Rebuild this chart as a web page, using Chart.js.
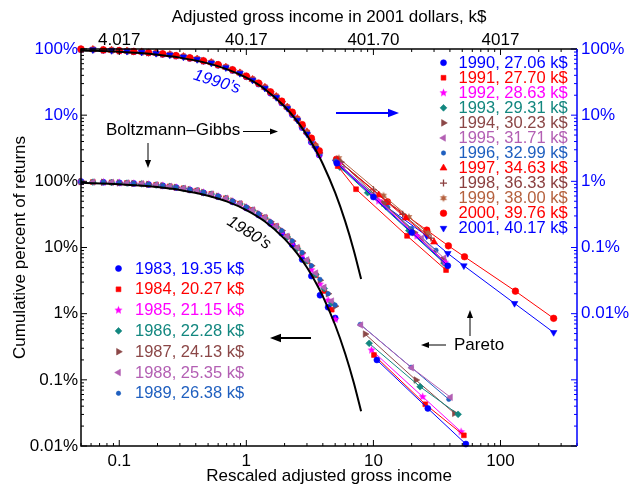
<!DOCTYPE html>
<html>
<head>
<meta charset="utf-8">
<script src="https://cdn.jsdelivr.net/npm/chart.js@4.4.1/dist/chart.umd.min.js"></script>
<style>
html, body { margin: 0; padding: 0; background: #fff; }
</style>
</head>
<body>
<canvas id="chart" width="638" height="485"></canvas>
<script>
// axis ticks
var xTicks = [0.1, 1, 10, 100];
var xTickLabels = ['0.1', '1', '10', '100'];
var topTickLabels = ['4.017', '40.17', '401.70', '4017'];
var leftTicks = [0.01, 0.1, 1, 10, 100, 1000, 10000];
var leftTickLabels = ['0.01%', '0.1%', '1%', '10%', '100%', '10%', '100%'];
var rightTicks = [0.01, 0.1, 1, 10, 100];
var rightTickLabels = ['0.01%', '0.1%', '1%', '10%', '100%'];

// years and average income
var years80 = ['1983', '1984', '1985', '1986', '1987', '1988', '1989'];
var income80 = ['19.35', '20.27', '21.15', '22.28', '24.13', '25.35', '26.38'];
var years90 = ['1990', '1991', '1992', '1993', '1994', '1995', '1996', '1997', '1998', '1999', '2000', '2001'];
var income90 = ['27.06', '27.70', '28.63', '29.31', '30.23', '31.71', '32.99', '34.63', '36.33', '38.00', '39.76', '40.17'];

// 1980's, low income part (left axis, %); two x grids, even years on A, odd on B
var bodyXA80 = [0.05, 0.075, 0.1, 0.13, 0.17, 0.22, 0.28, 0.36, 0.46, 0.6, 0.78, 1.0, 1.25, 1.55, 1.9, 2.3, 2.75, 3.25, 3.8, 4.4, 5.0];
var bodyXB80 = [0.062, 0.087, 0.115, 0.15, 0.195, 0.25, 0.32, 0.41, 0.53, 0.69, 0.89, 1.12, 1.4, 1.72, 2.1, 2.52, 3.0, 3.52, 4.1, 4.7];
var body80 = [
  [99, 97, 95, 93, 89.5, 85.5, 80.5, 74, 67, 58.5, 49, 39.5, 31, 23, 16.5, 11, 6.6, 3.7, 1.9, 1.25, 0.86],
  [97.5, 96.5, 94.5, 92, 88.5, 84, 78.5, 72.5, 64.5, 55.5, 46, 37, 28.5, 21, 14.6, 9.8, 6.2, 3.8, 2.2, 1.15],
  [99, 97, 95, 93, 90, 86, 81, 75, 68, 59.5, 50, 40.5, 32, 24, 17.5, 12, 7.8, 4.6, 2.8, 1.6, 0.82],
  [97.5, 96, 94, 91.5, 88, 83.5, 78, 72, 64, 55, 45.5, 36.5, 28, 20.5, 14.4, 9.7, 6.3, 3.9, 2.4, 1.45],
  [99, 97, 95, 93, 90, 86, 81, 75, 68, 59.5, 50.5, 41, 32.5, 24.5, 18, 12.5, 8.3, 5.3, 3.2, 2.0, 1.3],
  [97.5, 96.5, 94.5, 92, 88.5, 84, 78.5, 72.5, 64.5, 55.5, 46, 37, 28.5, 21, 14.8, 10, 6.5, 4.1, 2.5, 1.55],
  [99, 97, 95, 93, 90, 86, 81, 75.5, 68.5, 60, 50.5, 41, 32.5, 24.5, 18, 12.6, 8.4, 5.3, 3.3, 2.0, 1.35]
];
// 1980's, Pareto tail [x, %]
var tail80 = [
  [[10.65, 0.2], [26.8, 0.037], [53.4, 0.0107]],
  [[10.1, 0.237], [25.6, 0.0427], [51.5, 0.0145]],
  [[9.67, 0.282], [24.4, 0.0556], [49, 0.0164]],
  [[9.26, 0.356], [23.3, 0.0787], [46.4, 0.0301]],
  [[8.61, 0.492], [21.6, 0.0993], [43.4, 0.0312]],
  [[7.96, 0.673], [20.0, 0.152], [40.4, 0.0545]],
  [[7.87, 0.689], [19.8, 0.155], [39.2, 0.0507]]
];

// 1990's, low income part (right axis, %); even years on A, odd on B
var bodyXA90 = [0.05, 0.075, 0.1, 0.13, 0.17, 0.22, 0.28, 0.36, 0.46, 0.6, 0.78, 1.0, 1.25, 1.55, 1.9, 2.3, 2.75, 3.25, 3.75];
var bodyXB90 = [0.062, 0.087, 0.115, 0.15, 0.195, 0.25, 0.32, 0.41, 0.53, 0.69, 0.89, 1.12, 1.4, 1.72, 2.1, 2.52, 3.0, 3.5];
var body90 = [
  [99, 96, 94, 91, 87.5, 83.5, 78.5, 72.5, 65.5, 57, 47.5, 38, 29.5, 21.5, 15.3, 10.2, 6.5, 3.9, 2.5],
  [98.5, 96, 93.5, 90.5, 87, 82.5, 77, 70.5, 62.5, 53.3, 43.7, 34.8, 26.4, 19.2, 13.2, 8.8, 5.5, 3.4],
  [99, 96.5, 94, 91.5, 88, 84, 79, 73, 66, 57.5, 48, 38.5, 30, 22, 15.6, 10.4, 6.6, 4.0, 2.55],
  [98, 95.5, 93, 90, 86.5, 82, 76.5, 70, 62, 52.8, 43.2, 34.3, 26, 18.9, 13, 8.6, 5.4, 3.35],
  [99, 96.5, 94, 91.5, 88, 84, 79, 73, 66.5, 58, 48.5, 39, 30.5, 22.5, 16, 10.8, 7.0, 4.3, 2.7],
  [98, 95.5, 93, 90, 86.5, 82, 76.5, 70, 62, 52.6, 43, 34.2, 25.9, 18.8, 12.9, 8.5, 5.3, 3.3],
  [99, 96, 93.5, 91, 87.5, 83.5, 78.5, 72.5, 65.5, 57, 47.5, 38, 29.5, 21.8, 15.5, 10.4, 6.6, 4.0, 2.6],
  [98.5, 96, 93.5, 90.5, 87, 82.5, 77, 70.5, 62.5, 53.2, 43.6, 34.7, 26.4, 19.2, 13.3, 8.9, 5.6, 3.5],
  [99, 96.5, 94, 91.5, 88, 84, 79, 73, 66, 57.5, 48, 38.5, 30, 22.2, 15.9, 10.7, 6.9, 4.3, 2.7],
  [98, 95.5, 93, 90, 86.5, 82, 76.5, 70, 62, 52.8, 43.3, 34.4, 26.1, 19, 13.1, 8.7, 5.5, 3.45],
  [100, 97, 94.5, 92, 88.5, 84.5, 79.5, 73.5, 66.5, 58, 48.5, 39, 30.5, 22.5, 16.3, 11.1, 7.2, 4.5, 2.9],
  [97.5, 95, 92.5, 89.5, 86, 81.5, 76, 69.5, 61.5, 52.3, 42.8, 33.9, 25.6, 18.5, 12.7, 8.4, 5.2, 3.15]
];
// 1990's, Pareto tail [x, %]
var tail90 = [
  [[5.15, 1.88], [10, 0.58], [20, 0.169], [38.5, 0.053]],
  [[5.24, 1.70], [7.3, 0.76], [18.4, 0.15], [37.3, 0.0456]],
  [[5.34, 1.82], [11, 0.506], [22, 0.149], [36.6, 0.060]],
  [[5.44, 1.64], [9, 0.673], [19, 0.18], [36.0, 0.058]],
  [[5.54, 1.95], [12, 0.47], [21, 0.168], [35.3, 0.0645]],
  [[5.74, 1.58], [10, 0.614], [24, 0.138], [36.0, 0.069]],
  [[5.05, 2.02], [13, 0.404], [20, 0.194], [31.1, 0.091]],
  [[5.24, 2.09], [11, 0.622], [18, 0.279], [30.0, 0.121]],
  [[5.15, 2.16], [10, 0.744], [17, 0.318], [28.4, 0.139]],
  [[5.34, 2.24], [12, 0.607], [19, 0.289], [26.9, 0.165]],
  [[5.12, 2.16], [12.9, 0.49], [26.3, 0.183], [38.9, 0.106], [52.1, 0.0725], [131, 0.0219], [262, 0.0085]],
  [[5.05, 1.97], [12.5, 0.42], [26.3, 0.150], [38.5, 0.0815], [51.5, 0.053], [129, 0.0143], [262, 0.0052]]
];

// Boltzmann-Gibbs curve (same % on each axis)
var curveX = [0.05, 0.1, 0.2, 0.3, 0.5, 0.7, 1, 1.4, 2, 2.5, 3, 3.5, 4, 5, 6, 7, 8];
var curveY = [95.1, 90.5, 81.9, 74.1, 60.7, 49.7, 36.8, 24.7, 13.5, 8.2, 4.98, 3.02, 1.83, 0.674, 0.248, 0.0912, 0.0335];

var BLUE = '#0000ff';
var FONT = '"Liberation Sans", Arial, Helvetica, sans-serif';
var colors = ['#0000ff', '#ff0000', '#ff00ff', '#12877f', '#8b4747', '#b35fb3', '#1f5fbf', '#ff0000', '#8b3f3f', '#b5613e', '#ff0000', '#0000ff'];

function starCanvas(color, n, r, inner) {
  var c = document.createElement('canvas');
  var s = Math.ceil(r * 2 + 2);
  c.width = s; c.height = s;
  var g = c.getContext('2d');
  g.fillStyle = color;
  g.beginPath();
  for (var i = 0; i < n * 2; i++) {
    var rr = i % 2 === 0 ? r : r * inner;
    var a = -Math.PI / 2 + i * Math.PI / n;
    var px = s / 2 + rr * Math.cos(a), py = s / 2 + rr * Math.sin(a);
    if (i === 0) g.moveTo(px, py); else g.lineTo(px, py);
  }
  g.closePath();
  g.fill();
  return c;
}

var markers = [
  {style: 'circle', r: 3},
  {style: 'rect', r: 3.4},
  {style: starCanvas('#ff00ff', 5, 4.3, 0.45), r: 4},
  {style: 'rectRot', r: 3.4},
  {style: 'triangle', r: 3.8, rot: 90},
  {style: 'triangle', r: 3.8, rot: -90},
  {style: 'circle', r: 2.2},
  {style: 'triangle', r: 4},
  {style: 'cross', r: 3.5},
  {style: starCanvas('#b5613e', 6, 4, 0.5), r: 4},
  {style: 'circle', r: 3.3},
  {style: 'triangle', r: 3.8, rot: 180}
];

function pointOpts(i) {
  var m = markers[i];
  return {
    pointStyle: m.style,
    pointRadius: m.r,
    pointRotation: m.rot || 0,
    pointBackgroundColor: colors[i],
    pointBorderColor: colors[i],
    pointBorderWidth: m.style === 'cross' ? 1.3 : 0.6
  };
}

function mkData(xs, ys) {
  return ys.map(function (y, i) { return {x: xs[i], y: y}; });
}
function mkPairs(p) {
  return p.map(function (d) { return {x: d[0], y: d[1]}; });
}

// first dataset is drawn on top
var datasets = [];
datasets.push({data: mkData(curveX, curveY), yAxisID: 'y', showLine: true, borderColor: '#000', borderWidth: 2, pointRadius: 0, cubicInterpolationMode: 'monotone'});
datasets.push({data: mkData(curveX, curveY), yAxisID: 'yR', showLine: true, borderColor: '#000', borderWidth: 2, pointRadius: 0, cubicInterpolationMode: 'monotone'});

tail80.forEach(function (t, i) {
  datasets.push(Object.assign({data: mkPairs(t), yAxisID: 'y', showLine: true, borderColor: colors[i], borderWidth: 1, clip: false}, pointOpts(i)));
});
tail90.forEach(function (t, i) {
  datasets.push(Object.assign({data: mkPairs(t), yAxisID: 'yR', showLine: true, borderColor: colors[i], borderWidth: 1, clip: false}, pointOpts(i)));
});
for (var i = body80.length - 1; i >= 0; i--) {
  datasets.push(Object.assign({data: mkData(i % 2 ? bodyXB80 : bodyXA80, body80[i]), yAxisID: 'y', showLine: false, clip: false}, pointOpts(i)));
}
for (var j = body90.length - 1; j >= 0; j--) {
  datasets.push(Object.assign({data: mkData(j % 2 ? bodyXB90 : bodyXA90, body90[j]), yAxisID: 'yR', showLine: false, clip: false}, pointOpts(j)));
}

function setTicks(list) {
  return function (scale) {
    scale.ticks = list.map(function (v) { return {value: v}; });
  };
}

function logSteps(min, max) {
  var out = [];
  for (var d = Math.floor(Math.log10(min)); d <= Math.ceil(Math.log10(max)); d++) {
    for (var m = 1; m < 10; m++) {
      var v = m * Math.pow(10, d);
      if (v >= min * 0.999 && v <= max * 1.001) out.push({v: v, major: m === 1});
    }
  }
  return out;
}

function seg(ctx, x1, y1, x2, y2) {
  ctx.beginPath(); ctx.moveTo(x1, y1); ctx.lineTo(x2, y2); ctx.stroke();
}

function arrow(ctx, x1, y1, x2, y2, color, w, head) {
  var ang = Math.atan2(y2 - y1, x2 - x1), c = Math.cos(ang), s = Math.sin(ang), hw = head * 0.38;
  ctx.save();
  ctx.strokeStyle = color; ctx.fillStyle = color; ctx.lineWidth = w;
  seg(ctx, x1, y1, x2 - c * head * 0.7, y2 - s * head * 0.7);
  ctx.beginPath();
  ctx.moveTo(x2, y2);
  ctx.lineTo(x2 - head * c + hw * s, y2 - head * s - hw * c);
  ctx.lineTo(x2 - head * c - hw * s, y2 - head * s + hw * c);
  ctx.closePath(); ctx.fill();
  ctx.restore();
}

function rotText(ctx, str, x, y, deg, font, color) {
  ctx.save();
  ctx.translate(x, y); ctx.rotate(deg * Math.PI / 180);
  ctx.font = font; ctx.fillStyle = color;
  ctx.textAlign = 'center'; ctx.textBaseline = 'middle';
  ctx.fillText(str, 0, 0);
  ctx.restore();
}

function drawMarker(ctx, i, x, y) {
  var m = markers[i];
  ctx.save();
  ctx.fillStyle = colors[i]; ctx.strokeStyle = colors[i];
  ctx.lineWidth = m.style === 'cross' ? 1.3 : 0.6;
  Chart.helpers.drawPoint(ctx, {pointStyle: m.style, radius: m.r, rotation: m.rot || 0, borderWidth: ctx.lineWidth}, x, y);
  ctx.restore();
}

function drawLegend(ctx, years, incomes, x0, y0, dy, gap) {
  ctx.save();
  ctx.font = '16.5px ' + FONT;
  ctx.textAlign = 'left'; ctx.textBaseline = 'middle';
  years.forEach(function (yr, i) {
    var y = y0 + i * dy;
    drawMarker(ctx, i, x0, y);
    ctx.fillStyle = colors[i];
    ctx.fillText(yr + ', ' + incomes[i] + ' k$', x0 + gap, y + 0.5);
  });
  ctx.restore();
}

var decor = {
  id: 'decor',
  afterDatasetsDraw: function (chart) {
    var ctx = chart.ctx, a = chart.chartArea;
    var sx = chart.scales.x, sy = chart.scales.y, sr = chart.scales.yR;
    ctx.save();
    ctx.lineWidth = 1;
    ctx.strokeStyle = '#000';
    logSteps(sx.min, sx.max).forEach(function (t) {
      var p = sx.getPixelForValue(t.v), len = t.major ? 6 : 3;
      seg(ctx, p, a.bottom, p, a.bottom - len);
      seg(ctx, p, a.top, p, a.top + len);
    });
    logSteps(sy.min, sy.max).forEach(function (t) {
      var p = sy.getPixelForValue(t.v), len = t.major ? 6 : 3;
      seg(ctx, a.left, p, a.left + len, p);
    });
    ctx.strokeStyle = BLUE;
    logSteps(sr.min, sr.max).forEach(function (t) {
      var p = sr.getPixelForValue(t.v), len = t.major ? 6 : 3;
      seg(ctx, a.right, p, a.right - len, p);
    });
    // frame
    ctx.lineWidth = 1.5;
    ctx.strokeStyle = '#000';
    ctx.beginPath();
    ctx.moveTo(a.right, a.top); ctx.lineTo(a.left, a.top); ctx.lineTo(a.left, a.bottom); ctx.lineTo(a.right, a.bottom);
    ctx.stroke();
    ctx.strokeStyle = BLUE;
    seg(ctx, a.right, a.top, a.right, a.bottom);
    ctx.restore();

    // labels and arrows
    var f17 = '17px ' + FONT;
    rotText(ctx, '1990\u2019s', 217, 82, 17, 'italic 16.5px ' + FONT, BLUE);
    rotText(ctx, '1980\u2019s', 249, 233, 32, 'italic 16.5px ' + FONT, '#000');
    ctx.save();
    ctx.font = f17; ctx.fillStyle = '#000'; ctx.textBaseline = 'middle'; ctx.textAlign = 'left';
    ctx.fillText('Boltzmann\u2013Gibbs', 106, 130.5);
    ctx.fillText('Pareto', 454, 345.5);
    ctx.restore();
    arrow(ctx, 243, 131.5, 278, 131.5, '#000', 1, 8);
    arrow(ctx, 148, 143, 148, 168, '#000', 1, 8);
    arrow(ctx, 336, 113, 399, 113, BLUE, 2, 11);
    arrow(ctx, 311, 338, 270, 338, '#000', 2, 11);
    arrow(ctx, 446, 345, 421, 345, '#000', 1, 8);
    arrow(ctx, 470, 336, 470, 310, '#000', 1, 8);

    drawLegend(ctx, years90, income90, 443.5, 62.7, 15.05, 15);
    drawLegend(ctx, years80, income80, 118.5, 268.5, 20.8, 16.5);
  }
};

var tickFont = {family: FONT, size: 17};
var titleFont = {family: FONT, size: 17};

new Chart(document.getElementById('chart'), {
  type: 'scatter',
  data: {datasets: datasets},
  plugins: [decor],
  options: {
    responsive: false,
    animation: false,
    events: [],
    layout: {padding: 0},
    plugins: {legend: {display: false}, tooltip: {enabled: false}},
    scales: {
      x: {
        type: 'logarithmic', position: 'bottom', min: 0.05, max: 400,
        afterBuildTicks: setTicks(xTicks),
        afterFit: function (s) { s.height = 39; },
        grid: {display: false, drawTicks: false},
        border: {display: false},
        ticks: {autoSkip: false, maxRotation: 0, padding: 5, color: '#000', font: tickFont,
          callback: function (v, i) { return xTickLabels[i]; }},
        title: {display: true, text: 'Rescaled adjusted gross income', color: '#000',
          font: {family: FONT, size: 17, lineHeight: 1}, padding: {top: 0, bottom: 0}}
      },
      x2: {
        type: 'logarithmic', position: 'top', min: 0.05, max: 400,
        afterBuildTicks: setTicks(xTicks),
        afterFit: function (s) { s.height = 49; },
        grid: {display: false, drawTicks: false},
        border: {display: false},
        ticks: {autoSkip: false, maxRotation: 0, padding: 0, color: '#000', font: {family: FONT, size: 17, lineHeight: 1},
          callback: function (v, i) { return topTickLabels[i]; }},
        title: {display: true, text: 'Adjusted gross income in 2001 dollars, k$', color: '#000',
          font: titleFont, padding: {top: 7, bottom: 0}}
      },
      y: {
        type: 'logarithmic', position: 'left', min: 0.01, max: 10000,
        afterBuildTicks: setTicks(leftTicks),
        afterFit: function (s) { s.width = 81; },
        grid: {display: false, drawTicks: false},
        border: {display: false},
        ticks: {autoSkip: false, padding: 3, font: tickFont,
          color: function (c) { return c.tick && c.tick.value > 100 ? BLUE : '#000'; },
          callback: function (v, i) { return leftTickLabels[i]; }},
        title: {display: true, text: 'Cumulative percent of returns', color: '#000',
          font: titleFont, padding: {top: 10, bottom: 0}}
      },
      yR: {
        type: 'logarithmic', position: 'right', min: 0.0001, max: 100,
        afterBuildTicks: setTicks(rightTicks),
        afterFit: function (s) { s.width = 61; },
        grid: {display: false, drawTicks: false},
        border: {display: false},
        ticks: {autoSkip: false, padding: 4, color: BLUE, font: tickFont,
          callback: function (v, i) { return rightTickLabels[i]; }}
      }
    }
  }
});
</script>
</body>
</html>
